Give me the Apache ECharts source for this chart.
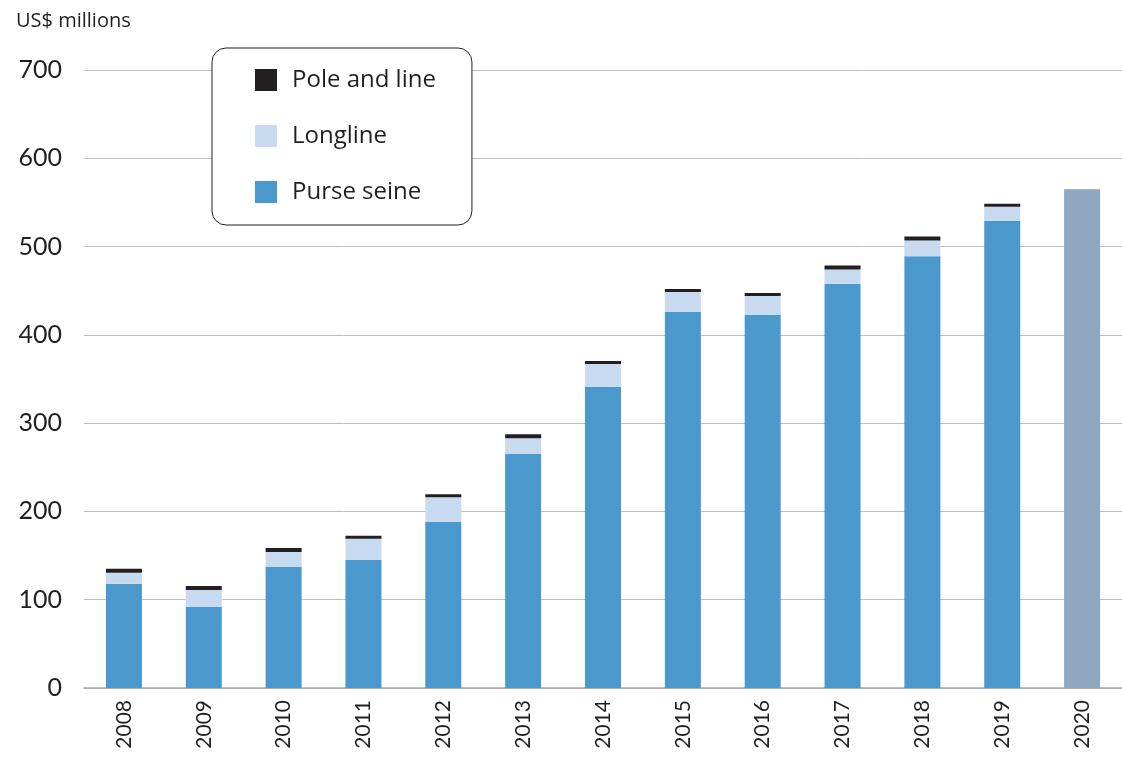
<!DOCTYPE html>
<html><head><meta charset="utf-8">
<script src="https://cdn.jsdelivr.net/npm/echarts@6/dist/echarts.min.js"></script>
<style>html,body{margin:0;padding:0;background:#fff}#c{width:1122px;height:759px}</style>
</head><body><div id="c"></div>
<script>
var years = ['2008','2009','2010','2011','2012','2013','2014','2015','2016','2017','2018','2019','2020'];
var purseSeine = [118, 92, 137, 145, 188, 265, 341, 426, 422.5, 458, 489, 529, null];
var longline   = [12.5, 19, 17, 24, 28, 18, 26, 22.5, 21.5, 16, 18, 16, null];
var poleLine   = [4.5, 4.5, 4.5, 3.5, 3.5, 4.5, 3.5, 3.5, 3.5, 4.5, 4.5, 3.5, null];
var total2020  = [null, null, null, null, null, null, null, null, null, null, null, null, 565];
var yTicks = [0, 100, 200, 300, 400, 500, 600, 700];

var FONT = 'Lato';
var FONT2 = 'Open Sans';
var chart = echarts.init(document.getElementById('c'), null, {renderer:'canvas'});
chart.setOption({
  animation: false,
  backgroundColor: '#fff',
  textStyle: {fontFamily: FONT},
  title: {text: 'US$ millions', left: 11, top: 6, textStyle: {fontFamily: FONT2, fontSize: 20, fontWeight: 'normal', color: '#231F20'}},
  legend: {
    orient: 'vertical', left: 212, top: 48,
    padding: [20, 36, 21, 43],
    itemWidth: 22, itemHeight: 22, itemGap: 32,
    icon: 'rect',
    borderColor: '#231F20', borderWidth: 1, borderRadius: 14,
    backgroundColor: '#fff',
    textStyle: {fontFamily: FONT2, fontSize: 24, color: '#231F20', padding: [0,0,0,10]},
    data: ['Pole and line', 'Longline', 'Purse seine']
  },
  grid: {left: 84, width: 1040, top: 70, bottom: 71, containLabel: false},
  xAxis: {
    type: 'category', data: years,
    axisLine: {show: true, lineStyle: {color: '#A7A9AC', width: 1.5}},
    axisTick: {show: false},
    axisLabel: {rotate: 90, fontSize: 21, color: '#231F20', margin: 12, fontFamily: FONT}
  },
  yAxis: {
    type: 'value', min: 0, max: 700, interval: 100,
    axisLine: {show: false}, axisTick: {show: false},
    axisLabel: {fontSize: 25, color: '#231F20', margin: 22, fontFamily: FONT,
      formatter: function(v){ return yTicks.indexOf(v) >= 0 ? String(v) : ''; }},
    splitLine: {lineStyle: {color: '#BCBEC0', width: 1}}
  },
  series: [
    {name: 'Purse seine', type: 'bar', stack: 's', barWidth: 36, data: purseSeine, itemStyle: {color: '#4A98CC'}},
    {name: 'Longline', type: 'bar', stack: 's', barWidth: 36, data: longline, itemStyle: {color: '#C8DAEF'}},
    {name: 'Pole and line', type: 'bar', stack: 's', barWidth: 36, data: poleLine, itemStyle: {color: '#231F20'}},
    {name: 'Total', type: 'bar', stack: 's', barWidth: 36, data: total2020, itemStyle: {color: '#8FA8C0'}}
  ]
});
</script></body></html>
